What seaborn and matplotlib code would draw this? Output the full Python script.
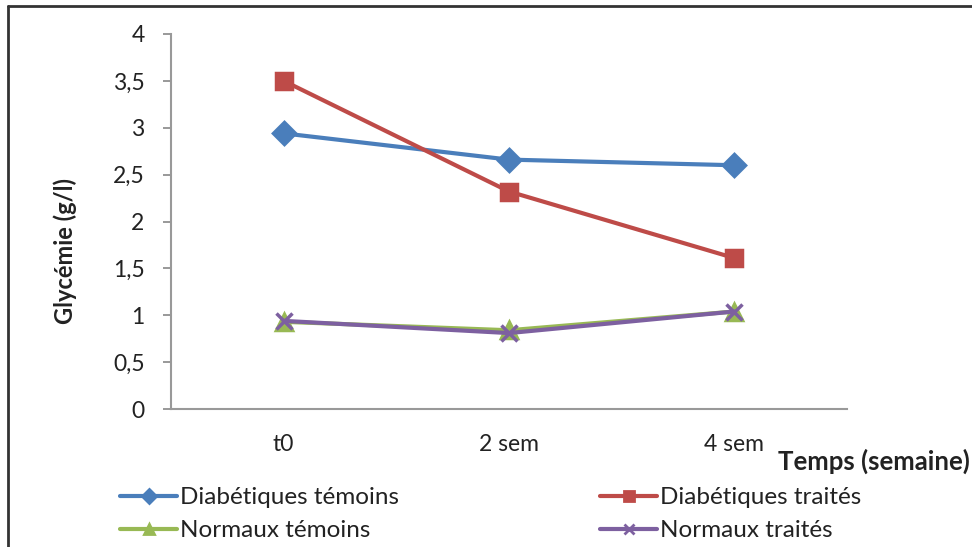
import numpy as np
import pandas as pd
import seaborn as sns
import matplotlib
matplotlib.use("Agg")
import matplotlib.pyplot as plt
from matplotlib.lines import Line2D

# donnees
temps = ["t0", "2 sem", "4 sem"]
diab_temoins = [2.94, 2.66, 2.60]
diab_traites = [3.50, 2.32, 1.61]
norm_temoins = [0.93, 0.84, 1.04]
norm_traites = [0.94, 0.81, 1.04]
groupes = ["Diabétiques témoins", "Diabétiques traités", "Normaux témoins", "Normaux traités"]
couleurs = ["#4A7EBB", "#BE4B48", "#98B954", "#7D60A0"]
marqueurs = ["D", "s", "^", "x"]

df = pd.DataFrame({
    "temps": temps * 4,
    "glycemie": diab_temoins + diab_traites + norm_temoins + norm_traites,
    "groupe": [g for g in groupes for _ in temps],
})

sns.set_style("white")
plt.rcParams["font.family"] = ["Lato", "DejaVu Sans"]

fig = plt.figure(figsize=(9.72, 5.47), dpi=100)
ax = fig.add_axes([171/972, 1 - 409/547, (847-171)/972, (409-34)/547])

# une courbe par groupe (marqueurs pleins et "x" ne se melangent pas)
for g, c, m in zip(groupes, couleurs, marqueurs):
    sns.lineplot(data=df[df["groupe"] == g], x="temps", y="glycemie", color=c,
                 marker=m, sort=False, linewidth=3, markersize=11,
                 markeredgewidth=2.5, markerfacecolor=c, markeredgecolor=c, ax=ax)

ax.set_xlim(-0.5, 2.5)
ax.set_ylim(0, 4)
ax.set_yticks(np.arange(0, 4.01, 0.5))
ax.set_yticklabels(["0", "0,5", "1", "1,5", "2", "2,5", "3", "3,5", "4"])
ax.set_xticks([0, 1, 2])
ax.set_xticks([-0.5, 0.5, 1.5, 2.5], minor=True)
ax.tick_params(axis="x", which="major", length=0, pad=18, labelsize=16.5, colors="#222222")
ax.tick_params(axis="x", which="minor", length=6, width=1.2, color="#888888", direction="out")
ax.tick_params(axis="y", length=6, width=1.2, color="#888888", direction="out", pad=13,
               labelsize=16.5, labelcolor="#222222")
ax.tick_params(left=True, bottom=True)
for s in ["top", "right"]:
    ax.spines[s].set_visible(False)
for s in ["left", "bottom"]:
    ax.spines[s].set_color("#999999")
    ax.spines[s].set_linewidth(1.5)

ax.set_xlabel("")
ax.set_ylabel("")
fig.text(65/972, 1 - 251/547, "Glycémie (g/l)", fontsize=17, fontweight="bold",
         rotation=90, ha="center", va="center", color="#222222")
fig.text(778/972, 1 - 461/547, "Temps (semaine)", fontsize=18.5, fontweight="bold",
         va="center", ha="left", color="#222222")

# legende : deux colonnes placees separement
handles = [Line2D([], [], color=c, marker=m, lw=3, ms=7, mew=2, mfc=c, mec=c)
           for c, m in zip(couleurs, marqueurs)]
for (i, j), x0 in zip([(0, 2), (1, 3)], [120, 600]):
    leg = fig.legend([handles[i], handles[j]], [groupes[i], groupes[j]],
                     loc="upper left", bbox_to_anchor=(x0/972, 1 - 487/547),
                     frameon=False, fontsize=17.5, handlelength=2.35,
                     handletextpad=0.12, labelspacing=0.5, borderaxespad=0,
                     borderpad=0)
    for t in leg.get_texts():
        t.set_color("#222222")

# cadre du graphique
fig.add_artist(Line2D([8/972, 8/972], [0, 1 - 6/547], color="#333333", lw=2))
fig.add_artist(Line2D([8/972, 1], [1 - 6/547, 1 - 6/547], color="#333333", lw=2))

fig.savefig("out.png", dpi=100)
